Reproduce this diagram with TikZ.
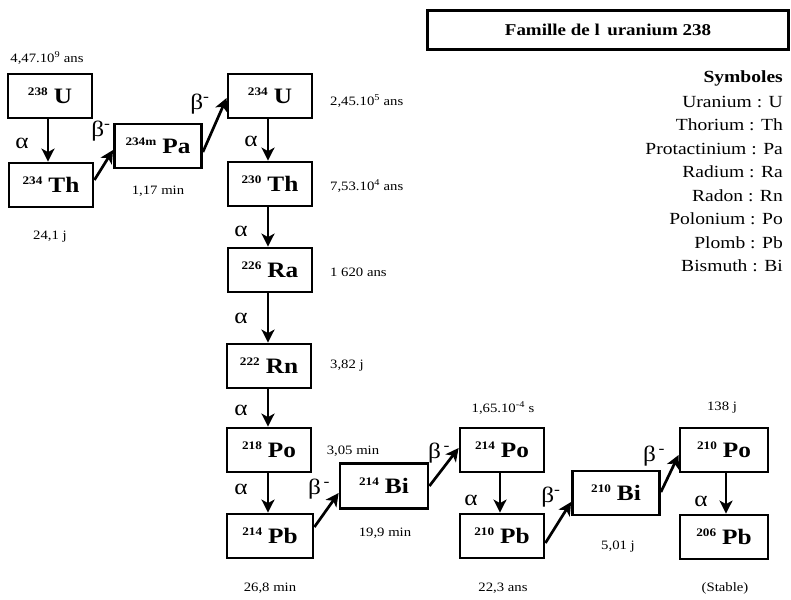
\documentclass[tikz,border=0pt]{standalone}
\usepackage{fontspec}
\setmainfont{Liberation Serif}[FakeStretch=1.15]
\usetikzlibrary{arrows.meta,calc}
\newcommand\iso[2]{\raisebox{-7pt}[0pt][0pt]{\raisebox{8pt}{\fontsize{11.5}{11.5}\selectfont #1}\hspace{6pt}#2}}
\begin{document}
\begin{tikzpicture}[x=1pt,y=-1pt,
  nuc/.style={draw, line width=2.8pt, minimum width=84pt, minimum height=44pt, inner sep=0pt, font=\fontsize{22}{22}\selectfont\bfseries},
  dec/.style={-{Stealth[length=13pt,width=13pt,inset=3.5pt]}, line width=2.7pt},
  hl/.style={font=\fontsize{12.8}{12.8}\selectfont, inner sep=0pt},
  hlw/.style={hl, anchor=west},
  greek/.style={font=\fontsize{22}{22}\selectfont, inner sep=0pt},
  sym/.style={font=\fontsize{17}{17}\selectfont, anchor=east, inner sep=0pt},
  titlebox/.style={draw, line width=3.4pt, minimum width=361pt, minimum height=39pt, inner sep=0pt}]
\useasboundingbox (0,0) rectangle (791,599);

% title
\node[titlebox] (tb) at (608,30) {};
\draw[line width=2.6pt] ($(tb.north west)+(2,0)$) -- ($(tb.south west)+(2,0)$);
\node[font=\fontsize{16.5}{16.5}\selectfont\bfseries, inner sep=0pt] (title) at (tb.center) {Famille de l\, uranium 238};

% legend
\node[sym, font=\fontsize{17}{17}\selectfont\bfseries] (s0) at (783,78) {Symboles};
\node[sym] (s1) at (783,101.5) {Uranium : U};
\node[sym] (s2) at (783,125) {Thorium : Th};
\node[sym] (s3) at (783,148.5) {Protactinium : Pa};
\node[sym] (s4) at (783,172) {Radium : Ra};
\node[sym] (s5) at (783,195.5) {Radon : Rn};
\node[sym] (s6) at (783,219) {Polonium : Po};
\node[sym] (s7) at (783,242.5) {Plomb : Pb};
\node[sym] (s8) at (783,266) {Bismuth : Bi};

% nuclides
\node[nuc] (U238) at (50,96) {\iso{238}{U}};
\node[nuc] (Th234) at (51,185) {\iso{234}{Th}};
\node[nuc, minimum width=87pt] (Pa) at (158,146) {\iso{234m}{Pa}};
\node[nuc] (U234) at (270,96) {\iso{234}{U}};
\node[nuc] (Th230) at (270,184) {\iso{230}{Th}};
\node[nuc] (Ra) at (270,270) {\iso{226}{Ra}};
\node[nuc] (Rn) at (269,366) {\iso{222}{Rn}};
\node[nuc] (Po218) at (269,450) {\iso{218}{Po}};
\node[nuc, minimum width=86pt] (Pb214) at (270,536) {\iso{214}{Pb}};
\node[nuc, minimum width=88pt, minimum height=45pt] (Bi214) at (384,486) {\iso{214}{Bi}};
\node[nuc] (Po214) at (502,450) {\iso{214}{Po}};
\node[nuc] (Pb210) at (502,536) {\iso{210}{Pb}};
\node[nuc, minimum width=87pt] (Bi210) at (616,493) {\iso{210}{Bi}};
\node[nuc, minimum width=88pt] (Po210) at (724,450) {\iso{210}{Po}};
\node[nuc, minimum width=88pt] (Pb206) at (724,537) {\iso{206}{Pb}};

% decays
\draw[dec] ($(U238.south)+(-2,0)$) -- ($(Th234.north)+(-3,0)$);
\draw[dec] ($(Th234.east)+(0,-5)$) -- ($(Pa.west)+(0,4)$);
\draw[dec] ($(Pa.east)+(0,6)$) -- ($(U234.west)+(0,2)$);
\draw[dec] ($(U234.south)+(-2,0)$) -- ($(Th230.north)+(-2,0)$);
\draw[dec] ($(Th230.south)+(-2,0)$) -- ($(Ra.north)+(-2,0)$);
\draw[dec] ($(Ra.south)+(-2,0)$) -- ($(Rn.north)+(-1,0)$);
\draw[dec] ($(Rn.south)+(-1,0)$) -- ($(Po218.north)+(-1,0)$);
\draw[dec] ($(Po218.south)+(-1,0)$) -- ($(Pb214.north)+(-2,0)$);
\draw[dec] ($(Pb214.east)+(0,-9)$) -- ($(Bi214.west)+(0,7)$);
\draw[dec] (Bi214.east) -- ($(Po214.west)+(0,-2)$);
\draw[dec] ($(Po214.south)+(-2,0)$) -- ($(Pb210.north)+(-2,0)$);
\draw[dec] ($(Pb210.east)+(0,7)$) -- ($(Bi210.west)+(0,9)$);
\draw[dec] ($(Bi210.east)+(0,-1)$) -- ($(Po210.west)+(0,5)$);
\draw[dec] ($(Po210.south)+(2,0)$) -- ($(Pb206.north)+(2,0)$);

% decay labels
\node[greek] (a1) at (22,143) {α};
\node[greek] (b1) at (101,131) {β\textsuperscript{-}};
\node[greek] (b2) at (200,104) {β\textsuperscript{-}};
\node[greek] (a2) at (251,141) {α};
\node[greek] (a3) at (241,231) {α};
\node[greek] (a4) at (241,318) {α};
\node[greek] (a5) at (241,410) {α};
\node[greek] (a6) at (241,489) {α};
\node[greek] (b3) at (319,489) {β\textsuperscript{\,-}};
\node[greek] (b4) at (439,453) {β\textsuperscript{\,-}};
\node[greek] (a7) at (471,500) {α};
\node[greek] (b5) at (551,497) {β\textsuperscript{-}};
\node[greek] (b6) at (654,456) {β\textsuperscript{\,-}};
\node[greek] (a8) at (701,501) {α};

% half-lives
\node[hl] (h1) at (47,58) {4,47.10\textsuperscript{9} ans};
\node[hl] (h2) at (50,237) {24,1 j};
\node[hl] (h3) at (158,191) {1,17 min};
\node[hlw] (h4) at (330,101) {2,45.10\textsuperscript{5} ans};
\node[hlw] (h5) at (330,186) {7,53.10\textsuperscript{4} ans};
\node[hlw] (h6) at (330,272) {1 620 ans};
\node[hlw] (h7) at (330,366) {3,82 j};
\node[hl] (h8) at (353,451) {3,05 min};
\node[hl] (h9) at (385,533) {19,9 min};
\node[hl] (h10) at (270,588) {26,8 min};
\node[hl] (h11) at (503,408) {1,65.10\textsuperscript{-4} s};
\node[hl] (h12) at (503,588) {22,3 ans};
\node[hl] (h13) at (618,547) {5,01 j};
\node[hl] (h14) at (722,408) {138 j};
\node[hl] (h15) at (725,588) {(Stable)};
\end{tikzpicture}
\end{document}
